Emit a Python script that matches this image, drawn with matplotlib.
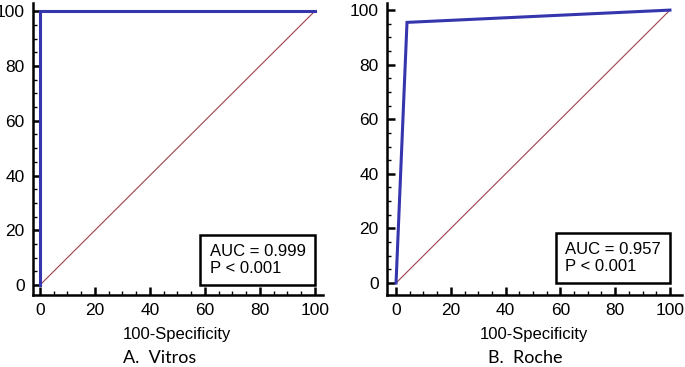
import matplotlib
matplotlib.use('Agg')
import matplotlib.pyplot as plt
from matplotlib.ticker import MultipleLocator

# ROC points
vitros_fpr = [0, 0, 100]
vitros_tpr = [0, 100, 100]
roche_fpr = [0, 4, 100]
roche_tpr = [0, 95.5, 100]

panels = [
    ('A.  Vitros', vitros_fpr, vitros_tpr, 'AUC = 0.999\nP < 0.001'),
    ('B.  Roche', roche_fpr, roche_tpr, 'AUC = 0.957\nP < 0.001'),
]
xlabel = '100-Specificity'

plt.rcParams['font.family'] = ['Liberation Sans', 'DejaVu Sans']

fig = plt.figure(figsize=(6.85, 3.67), dpi=100)
rects = [[33/685, 1-295/367, 290/685, 292/367],
         [387/685, 1-295/367, 295/685, 292/367]]
lims = [((-2.5, 103), (-3.6, 103)), ((-3.3, 104.4), (-4.4, 102.6))]
label_x = [177/685, 534/685]
title_x = [160/685, 525/685]

for i, (title, fpr, tpr, note) in enumerate(panels):
    ax = fig.add_axes(rects[i])
    ax.plot([0, 100], [0, 100], color='#a0404e', lw=0.8)
    ax.plot(fpr, tpr, color='#3535ad', lw=2.2, solid_joinstyle='miter')
    ax.set_xlim(lims[i][0])
    ax.set_ylim(lims[i][1])
    ax.spines['top'].set_visible(False)
    ax.spines['right'].set_visible(False)
    for s in ['left', 'bottom']:
        ax.spines[s].set_linewidth(1.8)
    ax.xaxis.set_minor_locator(MultipleLocator(5))
    ax.yaxis.set_minor_locator(MultipleLocator(5))
    ax.set_xticks(range(0, 101, 20))
    ax.set_yticks(range(0, 101, 20))
    ax.tick_params(which='major', direction='in', length=6, width=1.8,
                   labelsize=12.5, pad=6)
    ax.tick_params(which='minor', direction='in', length=3, width=1.0)
    ax.patch.set_alpha(0)
    pad = 0.55
    off = pad * 12
    ax.annotate(note, xy=(100, 0), xytext=(-off, off),
                textcoords='offset points', ha='right', va='bottom',
                multialignment='left', fontsize=12, linespacing=1.15,
                bbox=dict(boxstyle='square,pad=%.2f' % pad, fc='white',
                          ec='black', lw=1.8))
    fig.text(label_x[i], 1-335/367, xlabel, ha='center', va='center',
             fontsize=12)
    fig.text(title_x[i], 1-358/367, title, ha='center', va='center',
             fontsize=13, family=['Lato', 'DejaVu Sans'])

fig.savefig('out.png', dpi=100)
